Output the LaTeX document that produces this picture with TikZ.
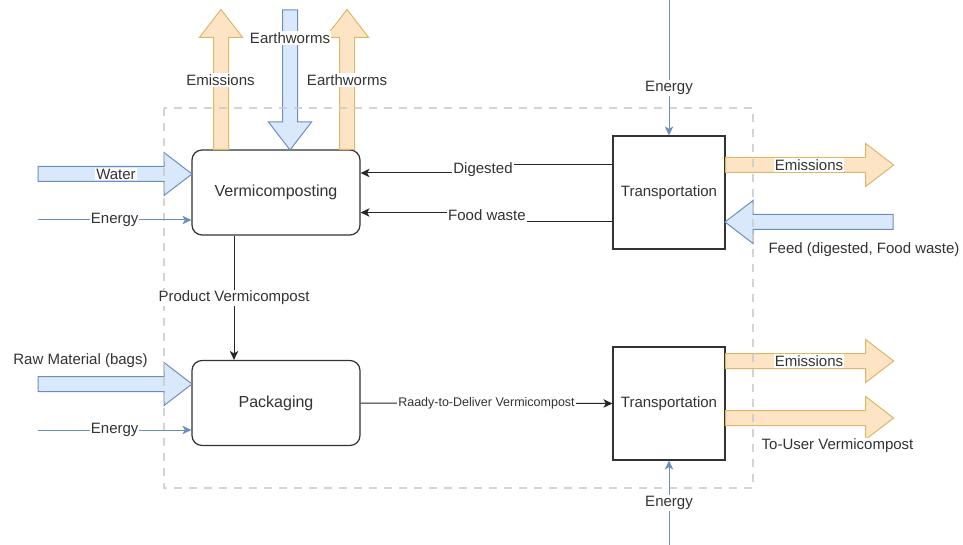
\documentclass[tikz,border=0pt]{standalone}
\usepackage{fontspec}
\setmainfont{Liberation Sans}
\usetikzlibrary{arrows.meta}

\definecolor{inblue}{HTML}{DAE8FC}
\definecolor{inblueline}{HTML}{6C8EBF}
\definecolor{outorange}{HTML}{FDE4C4}
\definecolor{outorangeline}{HTML}{DDB866}
\definecolor{textgray}{HTML}{333333}

% wide flow arrow: [style]{tail}{direction}{length}
\newcommand{\fatarrow}[4][]{%
  \begin{scope}[shift={#2},rotate=#3]
    \draw[#1] (0,-7.5) -- (#4-28,-7.5) -- (#4-28,-21.5) -- (#4,0)
      -- (#4-28,21.5) -- (#4-28,7.5) -- (0,7.5) -- cycle;
  \end{scope}}

\tikzset{
  process/.style={draw=black!80, line width=1.2pt, rounded corners=10pt,
    minimum width=168pt, minimum height=85pt,
    font=\fontsize{16}{19}\selectfont, text=textgray},
  transport/.style={draw=black!80, line width=1.2pt,
    minimum width=112pt, minimum height=113pt,
    font=\fontsize{15}{18}\selectfont, text=textgray},
  lbl/.style={fill=white, inner sep=1pt, font=\fontsize{15}{18}\selectfont, text=textgray},
  infeed/.style={fill=inblue, draw=inblueline, line width=1pt},
  outflow/.style={fill=outorange, draw=outorangeline, line width=1pt},
  energy/.style={draw=inblueline, line width=1pt, ->},
  flow/.style={draw=black!85, line width=1pt, ->},
}

\begin{document}
\begin{tikzpicture}[x=1pt,y=-1pt,>={Stealth[length=9pt,width=8.5pt,inset=2.5pt]}]
  \useasboundingbox (0,0) rectangle (963,545);

  % process boxes
  \node[process] (vc) at (276,192.5) {Vermicomposting};
  \node[process] (pk) at (276,403) {Packaging};
  \node[transport] (ta) at (669,192.5) {Transportation};
  \node[transport] (tb) at (669,403.5) {Transportation};

  % free ends
  \coordinate (emVc) at (221,10);
  \coordinate (ewIn) at (290,10);
  \coordinate (ewOut) at (347,10);
  \coordinate (waterIn) at (38,174);
  \coordinate (rawIn) at (38,384);
  \coordinate (feedIn) at (893,222);
  \coordinate (emTa) at (893,165);
  \coordinate (emTb) at (893,361);
  \coordinate (userOut) at (893,418);
  \coordinate (enVc) at (38,220);
  \coordinate (enPk) at (38,430);
  \coordinate (enTa) at (669,0);
  \coordinate (enTb) at (669,545);
  \coordinate (dg) at (483,170);
  \coordinate (fw) at (487,215);

  % material flows
  \fatarrow[outflow]{(vc.north -| emVc)}{90}{140}
  \fatarrow[infeed]{(ewIn)}{-90}{140}
  \fatarrow[outflow]{(vc.north -| ewOut)}{90}{140}
  \fatarrow[infeed]{(waterIn)}{0}{154}
  \fatarrow[infeed]{(rawIn)}{0}{154}
  \fatarrow[infeed]{(feedIn)}{180}{168}
  \fatarrow[outflow]{(ta.east |- emTa)}{0}{168}
  \fatarrow[outflow]{(tb.east |- emTb)}{0}{168}
  \fatarrow[outflow]{(tb.east |- userOut)}{0}{168}

  % system boundary
  \draw[black!20, line width=2pt, dash pattern=on 8pt off 7pt, opacity=0.85]
    (164,108) rectangle (753,488);

  % energy inputs
  \draw[energy] (enVc) -- (enVc -| vc.west) node[lbl, midway] (lEnVc) {Energy};
  \draw[energy] (enPk) -- (enPk -| pk.west) node[lbl, midway] (lEnPk) {Energy};
  \draw[energy] (enTa) -- (ta.north) node[lbl, pos=0.65] (lEnTa) {Energy};
  \draw[energy] (enTb) -- (tb.south) node[lbl, midway] (lEnTb) {Energy};

  % internal flows
  \draw[flow] ([yshift=27.5pt]ta.west) -| (dg) |- ([yshift=19.5pt]vc.east);
  \draw[flow] ([yshift=-29pt]ta.west) -| (fw) |- ([yshift=-20pt]vc.east);
  \draw[flow] ([xshift=-42pt]vc.south) -- ([xshift=-42pt]pk.north)
    node[lbl, midway] (lProd) {Product Vermicompost};
  \draw[flow] (pk.east) -- (tb.west)
    node[lbl, midway, font=\fontsize{12.5}{15}\selectfont] (lReady) {Raady-to-Deliver Vermicompost};

  % labels
  \node[lbl] (lDg) at (dg) {Digested};
  \node[lbl] (lFw) at (fw) {Food waste};
  \node[lbl] (lEmVc) at (220.5,80) {Emissions};
  \node[lbl] (lEwIn) at (290,38) {Earthworms};
  \node[lbl] (lEwOut) at (347,80) {Earthworms};
  \node[lbl] (lWater) at (116,174) {Water};
  \node[lbl] (lRaw) at (80.5,361) {Raw Material (bags)};
  \node[lbl] (lEmTa) at (809,165) {Emissions};
  \node[lbl] (lFeed) at (864,250) {Feed (digested, Food waste)};
  \node[lbl] (lEmTb) at (809,361) {Emissions};
  \node[lbl] (lUser) at (837.5,446) {To-User Vermicompost};
\end{tikzpicture}
\end{document}
